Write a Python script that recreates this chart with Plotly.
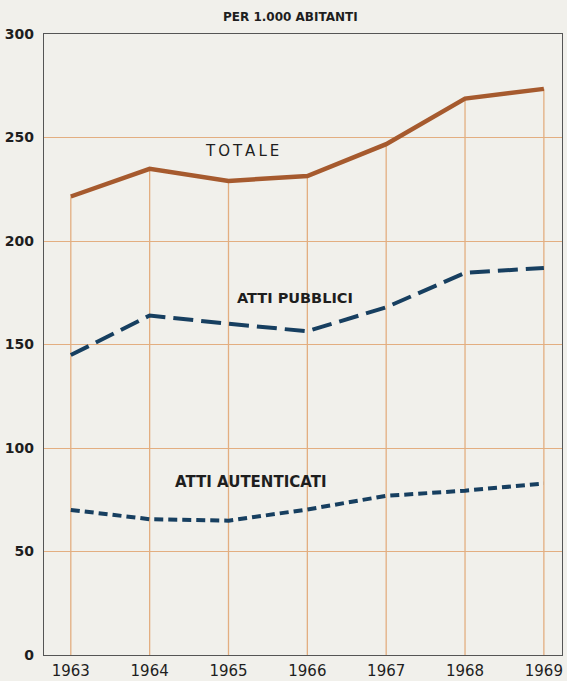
import plotly.graph_objects as go

years = [1963, 1964, 1965, 1966, 1967, 1968, 1969]
totale = [221.5, 234.9, 229.0, 231.4, 246.8, 268.8, 273.5]
atti_pubblici = [144.9, 164.0, 160.0, 156.4, 168.0, 184.6, 187.0]
atti_autenticati = [70.1, 65.6, 64.9, 70.3, 76.9, 79.4, 82.8]
y_ticks = [0, 50, 100, 150, 200, 250, 300]
series_labels = ["TOTALE", "ATTI PUBBLICI", "ATTI AUTENTICATI"]
title_text = "PER 1.000 ABITANTI"

BG = "#f1f0eb"
GRID = "#e3ae80"
BROWN = "#a65a2e"
NAVY = "#173f60"
TEXT = "#1e1e1e"
THIN = "\u2009"

fig = go.Figure()

# vertical grid lines from 0 up to the TOTALE line
vx, vy = [], []
for yr, t in zip(years, totale):
    vx += [yr, yr, None]
    vy += [0, t, None]
fig.add_trace(go.Scatter(x=vx, y=vy, mode="lines",
                         line=dict(color=GRID, width=1.3),
                         hoverinfo="skip", showlegend=False))

fig.add_trace(go.Scatter(x=years, y=totale, mode="lines", name=series_labels[0],
                         line=dict(color=BROWN, width=4.5), showlegend=False))
fig.add_trace(go.Scatter(x=years, y=atti_pubblici, mode="lines", name=series_labels[1],
                         line=dict(color=NAVY, width=4, dash="20px,8px"), showlegend=False))
fig.add_trace(go.Scatter(x=years, y=atti_autenticati, mode="lines", name=series_labels[2],
                         line=dict(color=NAVY, width=4, dash="9px,5px"), showlegend=False))

fig.add_annotation(x=1965.17, y=243.3, text=THIN.join(series_labels[0]), showarrow=False,
                   font=dict(family="DejaVu Sans", size=15, color=TEXT))
fig.add_annotation(x=1965.84, y=172.6, text="<b>" + series_labels[1] + "</b>", showarrow=False,
                   font=dict(family="DejaVu Sans", size=14.5, color=TEXT))
fig.add_annotation(x=1965.29, y=83.4, text="<b>" + series_labels[2] + "</b>", showarrow=False,
                   font=dict(family="DejaVu Sans", size=15, color=TEXT))
fig.add_annotation(xref="paper", yref="paper", x=0.475, y=1, yshift=26,
                   text="<b>" + title_text + "</b>", showarrow=False,
                   font=dict(family="DejaVu Sans", size=12, color=TEXT))

fig.update_layout(
    width=567, height=681,
    margin=dict(l=44, r=5, t=34, b=26),
    paper_bgcolor=BG, plot_bgcolor=BG,
    xaxis=dict(range=[1962.66, 1969.23], tickvals=years, ticktext=[str(y) for y in years],
               showgrid=False, zeroline=False, showline=True, linecolor="#555555",
               linewidth=1.2, mirror=True, ticks="", ticklabelstandoff=2, automargin=False,
               tickfont=dict(family="DejaVu Sans", size=15, color=TEXT)),
    yaxis=dict(range=[0, 300], tickvals=y_ticks, showgrid=True, gridcolor=GRID, gridwidth=1.3,
               zeroline=False, showline=True, linecolor="#555555", linewidth=1.2, mirror=True,
               ticks="", ticklabelstandoff=6, automargin=False,
               tickfont=dict(family="DejaVu Sans", size=14, color=TEXT, weight="bold")),
)

fig.write_html("out.html", config={"displayModeBar": False},
               post_script="document.body.style.margin='0';document.body.style.background='%s';" % BG)
